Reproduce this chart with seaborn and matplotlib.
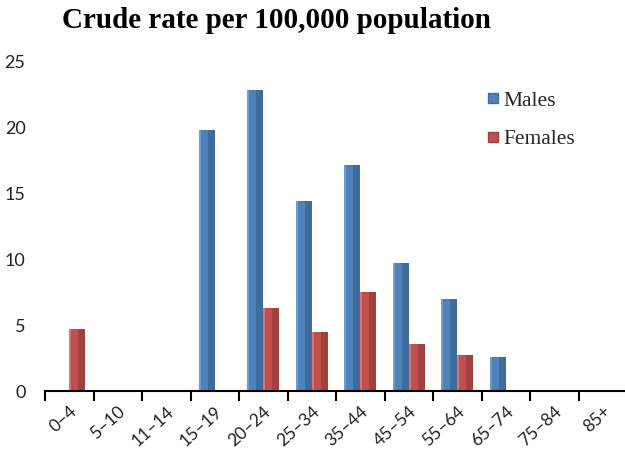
import matplotlib
matplotlib.use("Agg")
import matplotlib.pyplot as plt
from matplotlib.patches import Rectangle
from matplotlib.lines import Line2D
import seaborn as sns
import pandas as pd
import numpy as np

categories = ["0–4", "5–10", "11–14", "15–19", "20–24", "25–34",
              "35–44", "45–54", "55–64", "65–74", "75–84", "85+"]
males = [0, 0, 0, 19.8, 22.9, 14.4, 17.2, 9.7, 7.0, 2.6, 0, 0]
females = [4.7, 0, 0, 0, 6.3, 4.5, 7.5, 3.6, 2.7, 0, 0, 0]
series_names = ["Males", "Females"]
title = "Crude rate per 100,000 population"

colors = {"Males": "#4F81BD", "Females": "#C0504D"}
dark = {"Males": "#3F6C9E", "Females": "#A2403D"}
light = {"Males": "#6E9AD0", "Females": "#D67572"}

df = pd.DataFrame({
    "Age": categories * 2,
    "Series": ["Males"] * len(categories) + ["Females"] * len(categories),
    "Rate": males + females,
})

sns.set_theme(style="white")
plt.rcParams["font.family"] = ["Lato", "DejaVu Sans"]

fig = plt.figure(figsize=(6.25, 4.53), dpi=100)
ax = fig.add_axes([45 / 625, 1 - 391 / 453, 582 / 625, 329 / 453])

sns.barplot(data=df, x="Age", y="Rate", hue="Series", hue_order=series_names,
            palette=colors, width=0.66, dodge=True, ax=ax, legend=False,
            saturation=1, linewidth=0)

# bevel-like shading on each bar, from bar geometry
n = len(categories)
for i, p in enumerate(list(ax.patches)):
    h = p.get_height()
    if h <= 0 or i >= 2 * n:
        continue
    s = series_names[i // n]
    x0, w = p.get_x(), p.get_width()
    ax.add_patch(Rectangle((x0 + w * 0.55, 0), w * 0.45, h, color=dark[s], lw=0, zorder=p.get_zorder() + 0.1))
    ax.add_patch(Rectangle((x0, 0), w * 0.12, h, color=light[s], lw=0, zorder=p.get_zorder() + 0.1))

ax.set_ylim(0, 25)
ax.set_xlim(-0.5, n - 0.5)
ax.set_yticks([0, 5, 10, 15, 20, 25])
ax.set_xlabel("")
ax.set_ylabel("")
for sp in ["top", "right", "left"]:
    ax.spines[sp].set_visible(False)
ax.spines["bottom"].set_color("black")
ax.spines["bottom"].set_linewidth(1.5)

ax.set_xticks(np.arange(n))
ax.set_xticklabels(categories, rotation=42, ha="right", rotation_mode="anchor")
ax.set_xticks(np.arange(n + 1) - 0.5, minor=True)
ax.tick_params(axis="x", which="major", length=0, pad=9, labelsize=12.5, colors="#222222")
ax.tick_params(axis="x", which="minor", length=7, width=1.5, color="black", direction="out", bottom=True)
ax.tick_params(axis="y", length=0, pad=14, labelsize=13, colors="#222222")

handles = [Line2D([], [], marker="s", linestyle="", markersize=7,
                  markerfacecolor=colors[s], markeredgecolor=dark[s]) for s in series_names]
leg = fig.legend(handles, series_names, loc="upper left", bbox_to_anchor=(0.778, 0.80),
                 frameon=False, handletextpad=0.2, labelspacing=0.85, handlelength=0.6,
                 borderaxespad=0, borderpad=0,
                 prop={"family": "Liberation Serif", "size": 15.5})

fig.text(277 / 625, 1 - 21 / 453, title, ha="center", va="center",
         fontsize=21, fontweight="bold", family="Liberation Serif", color="black")

fig.savefig("out.png", dpi=100, facecolor="white")
